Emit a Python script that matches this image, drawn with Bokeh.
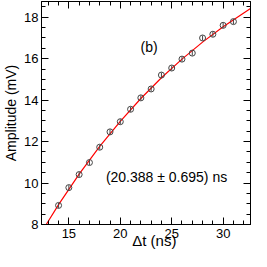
from bokeh.plotting import figure
from bokeh.models import (Range1d, LinearAxis, SingleIntervalTicker, Label,
                          ColumnDataSource, CustomJSTickFormatter)
from bokeh.embed import file_html
from bokeh.resources import INLINE

# Data
dt = [14, 15, 16, 17, 18, 19, 20, 21, 22, 23, 24, 25, 26, 27, 28, 29, 30, 31]
amp = [8.92, 9.78, 10.41, 10.99, 11.73, 12.47, 12.96, 13.56, 14.11, 14.54,
       15.21, 15.55, 15.98, 16.27, 17.00, 17.18, 17.61, 17.79]
err = [0.12, 0.12, 0.12, 0.12, 0.12, 0.12, 0.12, 0.12, 0.12, 0.12,
       0.12, 0.12, 0.12, 0.12, 0.12, 0.12, 0.12, 0.12]

# Fit curve
fit_t = [12.8, 14, 16, 18, 20, 22, 24, 26, 28, 30, 32.66]
fit_y = [8.0, 8.96, 10.43, 11.77, 12.98, 14.08, 15.08, 15.98, 16.80, 17.54, 18.42]

x_ticks_interval = 5
y_ticks_interval = 2
fit_text = "(20.388 \u00b1 0.695) ns"
panel_text = "(b)"
x_title = "\u00a0\u00a0\u00a0\u00a0\u0394t (ns)"
y_title = "Amplitude (mV)"

FONT = "Liberation Sans"

p = figure(width=251, height=251, output_backend="svg", toolbar_location=None,
           x_range=Range1d(12.34, 32.66), y_range=Range1d(8, 18.76),
           min_border_left=34, min_border_right=1, min_border_top=1,
           min_border_bottom=0)
p.xgrid.visible = False
p.ygrid.visible = False
p.outline_line_color = "black"
p.outline_line_width = 1
p.background_fill_color = "white"
p.border_fill_color = "white"

xt = SingleIntervalTicker(interval=x_ticks_interval, num_minor_ticks=5)
yt = SingleIntervalTicker(interval=y_ticks_interval, num_minor_ticks=4)

def style(ax, labels=True):
    ax.major_tick_in = 7
    ax.major_tick_out = 0
    ax.minor_tick_in = 4
    ax.minor_tick_out = 0
    ax.axis_line_color = "black"
    ax.major_tick_line_color = "black"
    ax.minor_tick_line_color = "black"
    ax.major_label_text_font = FONT
    if labels:
        ax.major_label_text_font_size = "13px"
        ax.major_label_text_color = "black"
    else:
        ax.formatter = CustomJSTickFormatter(code="return ''")
        ax.major_label_text_font_size = "1px"
        ax.major_label_standoff = 0

p.xaxis.ticker = xt
p.yaxis.ticker = yt
style(p.xaxis[0])
style(p.yaxis[0])
p.xaxis.major_label_standoff = 4
p.yaxis.major_label_standoff = 3
p.xaxis.axis_label = x_title
p.xaxis.axis_label_text_font = FONT
p.xaxis.axis_label_text_font_size = "15px"
p.xaxis.axis_label_text_font_style = "normal"
p.xaxis.axis_label_text_color = "black"
p.xaxis.axis_label_standoff = -9
p.yaxis.axis_label = y_title
p.yaxis.axis_label_text_font = FONT
p.yaxis.axis_label_text_font_size = "14px"
p.yaxis.axis_label_text_font_style = "normal"
p.yaxis.axis_label_text_color = "black"
p.yaxis.axis_label_standoff = 2

top = LinearAxis(ticker=xt)
style(top, labels=False)
p.add_layout(top, "above")
right = LinearAxis(ticker=yt)
style(right, labels=False)
p.add_layout(right, "right")

src = ColumnDataSource(dict(x=dt, y=amp,
                            lo=[a - e for a, e in zip(amp, err)],
                            hi=[a + e for a, e in zip(amp, err)]))

p.line(fit_t, fit_y, line_color="#ff0000", line_width=1.2)
p.segment(x0="x", y0="lo", x1="x", y1="hi", source=src, line_color="#444444", line_width=1)
p.scatter(x="x", y="y", source=src, marker="circle", size=6, fill_color=None,
          line_color="#444444", line_width=1)

p.add_layout(Label(x=22.8, y=16.58, text=panel_text, text_font=FONT,
                   text_font_size="14px", text_align="center", text_baseline="middle",
                   text_color="black"))
p.add_layout(Label(x=18.6, y=10.28, text=fit_text, text_font=FONT,
                   text_font_size="14px", text_align="left", text_baseline="middle",
                   text_color="black"))

open("out.html", "w").write(file_html(p, INLINE))
